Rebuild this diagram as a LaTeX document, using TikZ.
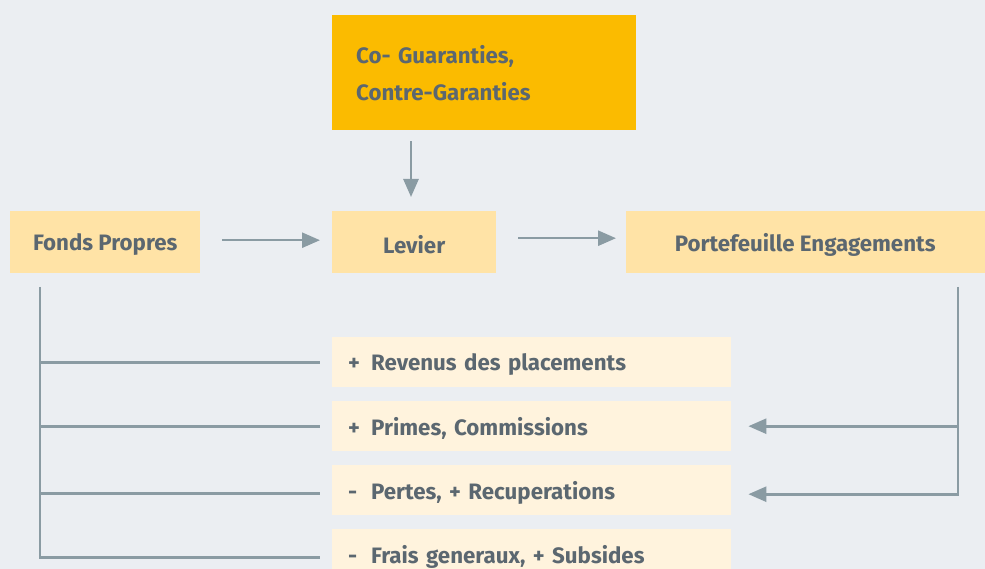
\documentclass[tikz,border=0pt]{standalone}
\usepackage{fontspec}
\setmainfont{Fira Sans}
\usetikzlibrary{arrows.meta,calc}
\definecolor{bgpaper}{HTML}{EBEEF2}
\definecolor{goldbox}{HTML}{FBBB00}
\definecolor{sandbox}{HTML}{FFE3A6}
\definecolor{creambox}{HTML}{FFF3DD}
\definecolor{inkgrey}{HTML}{5B6770}
\definecolor{linkgrey}{HTML}{8A9BA3}
\newcommand\low[1]{\raisebox{-2.5pt}[\height][\depth]{#1}}
\newcommand\signed[2]{\low{\makebox[23pt][l]{#1}#2}}
\begin{document}
\begin{tikzpicture}[x=1pt,y=-1pt,
  every node/.style={font=\fontsize{22.3}{37}\selectfont\bfseries, text=inkgrey},
  mainbox/.style={fill=sandbox, minimum height=62pt, inner sep=0pt, anchor=north west},
  itembox/.style={fill=creambox, minimum width=399pt, minimum height=50pt,
    text width=367pt, inner xsep=16pt, inner ysep=0pt, align=left, anchor=north west},
  link/.style={draw=linkgrey, line width=2.6pt},
  arrowlink/.style={link, -{Triangle[length=18pt,width=15pt]}},
]
  \fill[bgpaper] (0,0) rectangle (985,569);
  \useasboundingbox (0,0) rectangle (985,569);
  \begin{scope}
  \clip (0,0) rectangle (985,569);

  % top guarantee box
  \node[fill=goldbox, anchor=north west, minimum width=304pt, minimum height=115pt,
        text width=256pt, inner xsep=24pt, inner ysep=0pt, align=left]
        (gold) at (332,15) {Co- Guaranties,\\Contre-Garanties};

  % main row
  \node[mainbox, minimum width=190pt] (fonds) at (10,211) {\low{Fonds Propres}};
  \node[mainbox, minimum width=164pt] (levier) at (332,211) {\low{Levier}};
  \node[mainbox, minimum width=362pt] (porte) at (626,211) {\hspace*{-4pt}\low{Portefeuille Engagements}};

  % result items
  \node[itembox] (b1) at (332,337) {\signed{+}{Revenus des placements}};
  \node[itembox] (b2) at (332,401) {\signed{+}{Primes, Commissions}};
  \node[itembox] (b3) at (332,465) {\signed{-}{Pertes, + Recuperations}};
  \node[itembox] (b4) at (332,529) {\signed{-}{Frais generaux, + Subsides}};

  % flow along the top
  \draw[arrowlink, shorten <=11pt, shorten >=14pt] (gold.south -| 411,0) -- (levier.north -| 411,0);
  \draw[arrowlink, shorten <=22pt, shorten >=12pt] ($(fonds.east)+(0,-2)$) -- ($(levier.west)+(0,-2)$);
  \draw[arrowlink, shorten <=22pt, shorten >=10pt] ($(levier.east)+(0,-4)$) -- ($(porte.west)+(0,-4)$);

  % bracket from own funds to every item
  \coordinate (L) at (40,287);
  \draw[link, shorten >=12pt] (L) |- ($(b4.west)+(0,3)$);
  \draw[link, shorten >=12pt] (L |- b1.west) -- (b1.west);
  \draw[link, shorten >=12pt] (L |- b2.west) -- (b2.west);
  \draw[link, shorten >=12pt] ($(L |- b3.west)+(0,3)$) -- ($(b3.west)+(0,3)$);

  % feedback from the portfolio
  \coordinate (R) at (958,287);
  \draw[arrowlink, shorten >=17pt] (R) |- ($(b3.east)+(0,4)$);
  \draw[arrowlink, shorten >=17pt] (R |- b2.east) -- (b2.east);
  \end{scope}
\end{tikzpicture}
\end{document}
